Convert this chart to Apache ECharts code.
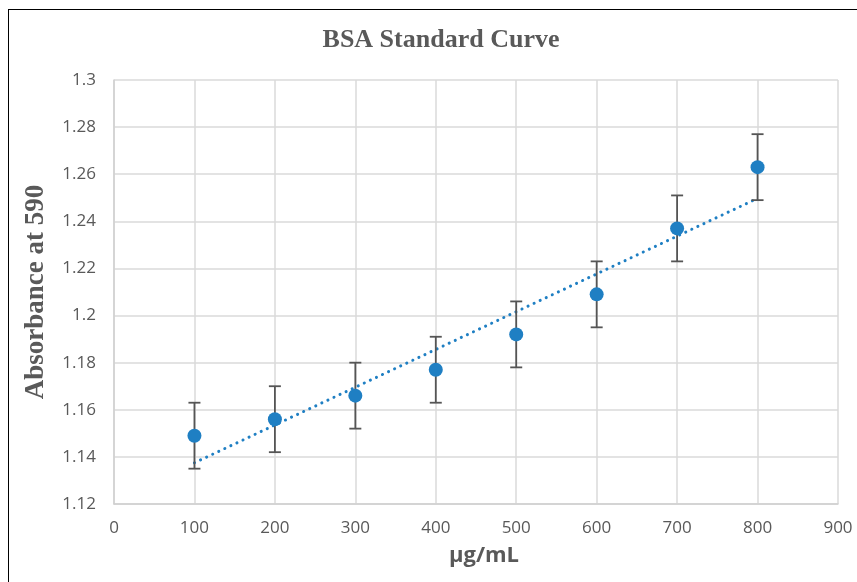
<!DOCTYPE html>
<html>
<head>
<meta charset="utf-8">
<script src="https://cdn.jsdelivr.net/npm/echarts@6/dist/echarts.min.js"></script>
<style>
html, body { margin: 0; padding: 0; background: #fff; }
#frame { position: absolute; left: 8px; top: 9px; width: 900px; height: 600px; border-left: 1.5px solid #000; border-top: 1.5px solid #000; }
#chart { position: absolute; left: 0; top: 0; width: 857px; height: 582px; }
</style>
</head>
<body>
<div id="frame"></div>
<div id="chart"></div>
<script>
// 数据
var concentrations = [100, 200, 300, 400, 500, 600, 700, 800];
var absorbance = [1.149, 1.156, 1.166, 1.177, 1.192, 1.209, 1.237, 1.263];
var errors = [0.014, 0.014, 0.014, 0.014, 0.014, 0.014, 0.014, 0.014];

// 线性趋势线 (最小二乘)
var n = concentrations.length, sx = 0, sy = 0, sxx = 0, sxy = 0;
for (var i = 0; i < n; i++) {
    sx += concentrations[i]; sy += absorbance[i];
    sxx += concentrations[i] * concentrations[i];
    sxy += concentrations[i] * absorbance[i];
}
var slope = (n * sxy - sx * sy) / (n * sxx - sx * sx);
var intercept = (sy - slope * sx) / n;
var xFirst = concentrations[0], xLast = concentrations[n - 1];
var trend = [[xFirst, intercept + slope * xFirst], [xLast, intercept + slope * xLast]];

var points = concentrations.map(function (x, i) { return [x, absorbance[i]]; });
var bars = concentrations.map(function (x, i) { return [x, absorbance[i] - errors[i], absorbance[i] + errors[i]]; });

var blue = '#1f7fc3';
var grey = '#595959';

var chart = echarts.init(document.getElementById('chart'));
var option = {
    animation: false,
    title: {
        text: 'BSA Standard Curve',
        left: 436, top: 22, textAlign: 'center',
        textStyle: { fontFamily: 'Liberation Serif', fontWeight: 'bold', fontSize: 26, color: grey }
    },
    grid: { left: 114, right: 19, top: 80, bottom: 78 },
    xAxis: {
        type: 'value', min: 0, max: 900, interval: 100,
        name: 'µg/mL', nameLocation: 'middle', nameGap: 41,
        nameTextStyle: { fontFamily: 'Open Sans', fontWeight: 'bold', fontSize: 22, color: grey, padding: [0, 0, 0, 16] },
        axisLine: { lineStyle: { color: '#d0d0d0', width: 1.5 } },
        axisTick: { show: false },
        axisLabel: { color: grey, fontFamily: 'Open Sans', fontSize: 17, margin: 16 },
        splitLine: { lineStyle: { color: '#dadada', width: 1.5 } }
    },
    yAxis: {
        type: 'value', min: 1.12, max: 1.3, interval: 0.02,
        name: 'Absorbance at 590', nameLocation: 'middle', nameGap: 64, nameRotate: 90,
        nameTextStyle: { fontFamily: 'Liberation Serif', fontWeight: 'bold', fontSize: 27, color: grey },
        axisLine: { show: true, lineStyle: { color: '#d0d0d0', width: 1.5 } },
        axisTick: { show: false },
        axisLabel: { color: grey, fontFamily: 'Open Sans', fontSize: 17, margin: 18,
            formatter: function (v) { return String(+v.toFixed(2)); } },
        splitLine: { lineStyle: { color: '#dadada', width: 1.5 } }
    },
    series: [
        {
            // 趋势线
            type: 'line',
            data: trend,
            symbol: 'none',
            lineStyle: { color: blue, width: 3, type: [0.1, 6.6], cap: 'round' },
            z: 2
        },
        {
            // 误差线
            type: 'custom',
            data: bars,
            renderItem: function (params, api) {
                var lo = api.coord([api.value(0), api.value(1)]);
                var hi = api.coord([api.value(0), api.value(2)]);
                var w = 6;
                var st = { stroke: '#555555', lineWidth: 1.8 };
                return {
                    type: 'group',
                    children: [
                        { type: 'line', shape: { x1: hi[0], y1: hi[1], x2: lo[0], y2: lo[1] }, style: st },
                        { type: 'line', shape: { x1: hi[0] - w, y1: hi[1], x2: hi[0] + w, y2: hi[1] }, style: st },
                        { type: 'line', shape: { x1: lo[0] - w, y1: lo[1], x2: lo[0] + w, y2: lo[1] }, style: st }
                    ]
                };
            },
            z: 3
        },
        {
            type: 'scatter',
            data: points,
            symbol: 'circle',
            symbolSize: 14,
            itemStyle: { color: blue, opacity: 1 },
            emphasis: { disabled: true },
            z: 4
        }
    ]
};
chart.setOption(option);
</script>
</body>
</html>
